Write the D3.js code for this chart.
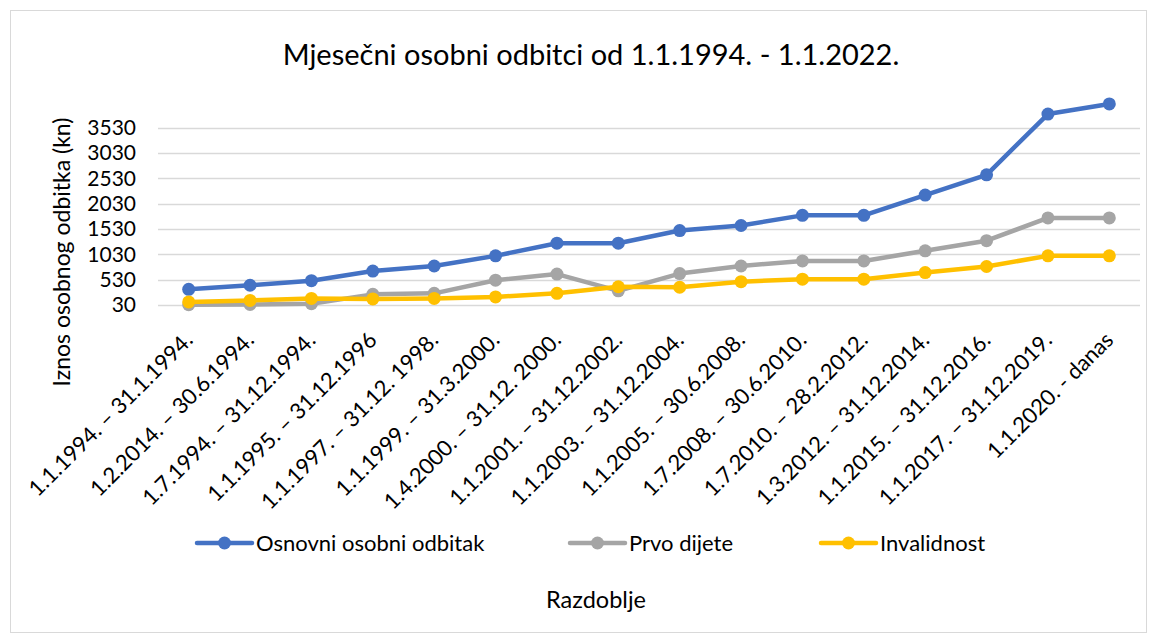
<!DOCTYPE html>
<html>
<head>
<meta charset="utf-8">
<script src="https://cdn.jsdelivr.net/npm/d3@7"></script>
<style>
  body { margin: 0; background: #fff; }
  svg { font-family: Lato, "Open Sans", sans-serif; }
</style>
</head>
<body>
<svg id="chart" width="1155" height="635"></svg>
<script>
const periods = ["1.1.1994. – 31.1.1994.", "1.2.2014. – 30.6.1994.", "1.7.1994. – 31.12.1994.", "1.1.1995. – 31.12.1996",
  "1.1.1997. – 31.12. 1998.", "1.1.1999. – 31.3.2000.", "1.4.2000. – 31.12. 2000.", "1.1.2001. – 31.12.2002.",
  "1.1.2003. – 31.12.2004.", "1.1.2005. – 30.6.2008.", "1.7.2008. – 30.6.2010.", "1.7.2010. – 28.2.2012.",
  "1.3.2012. – 31.12.2014.", "1.1.2015. – 31.12.2016.", "1.1.2017. – 31.12.2019.", "1.1.2020. - danas"];

const osnovni = [340, 420, 510, 700, 800, 1000, 1250, 1250, 1500, 1600, 1800, 1800, 2200, 2600, 3800, 4000];
const prvoDijete = [35, 40, 55, 240, 260, 520, 640, 310, 650, 800, 900, 900, 1100, 1300, 1750, 1750];
const invalidnost = [90, 120, 160, 150, 160, 190, 260, 390, 380, 490, 540, 540, 670, 790, 1000, 1000];

const yTicks = [30, 530, 1030, 1530, 2030, 2530, 3030, 3530];

const series = [
  {name: "Osnovni osobni odbitak", values: osnovni, color: "#4472C4"},
  {name: "Prvo dijete", values: prvoDijete, color: "#A5A5A5"},
  {name: "Invalidnost", values: invalidnost, color: "#FFC000"}
];

const svg = d3.select("#chart");

// chart frame
svg.append("rect")
  .attr("x", 10.5).attr("y", 10.5)
  .attr("width", 1136).attr("height", 622)
  .attr("fill", "none")
  .attr("stroke", "#d9d9d9");

const plotLeft = 158, plotRight = 1140, plotTop = 102.4, plotBottom = 305;

const x = d3.scaleBand()
  .domain(periods)
  .range([plotLeft, plotRight]);
const y = d3.scaleLinear()
  .domain([30, 4030])
  .range([plotBottom, plotTop]);

// gridlines
svg.append("g")
  .selectAll("line")
  .data(yTicks)
  .enter()
  .append("line")
  .attr("x1", plotLeft).attr("x2", plotRight)
  .attr("y1", d => Math.round(y(d)) + 0.5)
  .attr("y2", d => Math.round(y(d)) + 0.5)
  .attr("stroke", "#d9d9d9")
  .attr("stroke-width", 1.5);

// y axis
const yAxis = d3.axisLeft(y)
  .tickValues(yTicks)
  .tickFormat(d3.format("d"))
  .tickSize(0)
  .tickPadding(0);
const yg = svg.append("g")
  .attr("transform", "translate(136,0)")
  .call(yAxis);
yg.select(".domain").remove();
yg.selectAll("text")
  .attr("font-size", 21)
  .attr("font-family", "Lato, sans-serif")
  .attr("fill", "#000");

// x axis labels (rotated)
const xAxis = d3.axisBottom(x).tickSize(0).tickPadding(0);
const xg = svg.append("g")
  .attr("transform", "translate(0," + plotBottom + ")")
  .call(xAxis);
xg.select(".domain").remove();
xg.selectAll("text")
  .attr("font-size", 22)
  .attr("font-family", "Lato, sans-serif")
  .attr("fill", "#000")
  .attr("text-anchor", "end")
  .attr("dy", "0.35em")
  .attr("transform", "translate(0,31) rotate(-45)");

// lines + markers
const line = d3.line()
  .x((d, i) => x(periods[i]) + x.bandwidth() / 2)
  .y(d => y(d));

series.forEach(s => {
  svg.append("path")
    .datum(s.values)
    .attr("d", line)
    .attr("fill", "none")
    .attr("stroke", s.color)
    .attr("stroke-width", 4.5)
    .attr("stroke-linejoin", "round")
    .attr("stroke-linecap", "round");
  svg.append("g")
    .selectAll("circle")
    .data(s.values)
    .enter()
    .append("circle")
    .attr("cx", (d, i) => x(periods[i]) + x.bandwidth() / 2)
    .attr("cy", d => y(d))
    .attr("r", 6.5)
    .attr("fill", s.color);
});

// title
svg.append("text")
  .attr("x", 591).attr("y", 65)
  .attr("text-anchor", "middle")
  .attr("font-size", 29)
  .attr("fill", "#000")
  .text("Mjesečni osobni odbitci od 1.1.1994. - 1.1.2022.");

// y title
svg.append("text")
  .attr("transform", "translate(70,252) rotate(-90)")
  .attr("text-anchor", "middle")
  .attr("font-size", 23)
  .attr("fill", "#000")
  .text("Iznos osobnog odbitka (kn)");

// x title
svg.append("text")
  .attr("x", 596).attr("y", 608)
  .attr("text-anchor", "middle")
  .attr("font-size", 23.5)
  .attr("fill", "#000")
  .text("Razdoblje");

// legend
const legendX = [197, 570, 821];
const lg = svg.append("g");
series.forEach((s, i) => {
  const g = lg.append("g").attr("transform", "translate(" + legendX[i] + ",543)");
  g.append("line")
    .attr("x1", 0).attr("x2", 55)
    .attr("stroke", s.color)
    .attr("stroke-width", 4.5)
    .attr("stroke-linecap", "round");
  g.append("circle")
    .attr("cx", 27.5).attr("r", 6.5)
    .attr("fill", s.color);
  g.append("text")
    .attr("x", 59).attr("dy", "0.35em")
    .attr("font-size", 22)
    .attr("fill", "#000")
    .text(s.name);
});
</script>
</body>
</html>
